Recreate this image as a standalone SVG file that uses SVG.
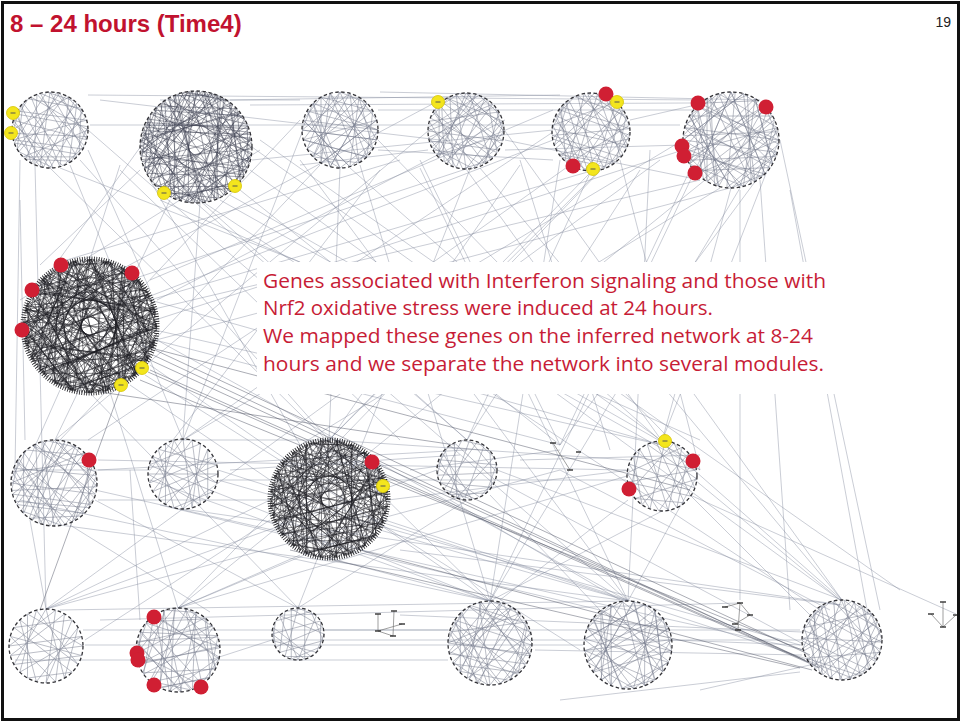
<svg xmlns="http://www.w3.org/2000/svg" xmlns:xlink="http://www.w3.org/1999/xlink" width="962" height="723" viewBox="0 0 962 723">
<style>
.e{fill:none;stroke:#80869a;stroke-width:.7;opacity:.6}
.ed{fill:none;stroke:#4e5263;stroke-width:.8;opacity:.6}
.lt{stroke:#6f7588;stroke-width:.55;opacity:.85}
.md{stroke:#3e4252;stroke-width:.6;opacity:.8}
.dk{stroke:#1c1c22;stroke-width:.7;opacity:.75}
.ring{fill:none;stroke:#333338;stroke-width:1.3;stroke-dasharray:3.5 2.5}
.ringd{fill:none;stroke:#1a1a1e;stroke-width:5;stroke-dasharray:.8 1.6}
.rd{fill:#d01f33}
.tick{stroke:#333;stroke-width:1.4}
.tree{stroke:#777;stroke-width:.7}
.title{font-family:"Liberation Sans",Arial,sans-serif;font-weight:bold;font-size:24px;fill:#c1122f}
.body{font-family:"Open Sans","Noto Sans","Liberation Sans",sans-serif;font-size:19.5px;fill:#c71c36}
</style>
<defs>
<path id="t1" fill="none" vector-effect="non-scaling-stroke" d="M100 0 L-70.7 70.7 L70.7 70.7 L-25.9 -96.6 L86.6 -50 L0 100 L-96.6 -25.9 L96.6 25.9 L25.9 -96.6 L-86.6 50 L-70.7 -70.7 L50 86.6 L70.7 -70.7 L-50 86.6 L-86.6 -50 L96.6 -25.9 L-96.6 25.9 L86.6 50 L0 -100 L-25.9 96.6 L-100 0 L50 -86.6 L25.9 96.6 L-50 -86.6 Z"/>
<path id="t2" fill="none" vector-effect="non-scaling-stroke" d="M100 0 L-96.6 -25.9 L25.9 96.6 L50 -86.6 L86.6 50 L-50 -86.6 L-50 86.6 L96.6 -25.9 L-96.6 25.9 L70.7 70.7 L0 -100 L-70.7 70.7 L86.6 -50 L-86.6 -50 L0 100 L96.6 25.9 L-100 0 L25.9 -96.6 L50 86.6 L-25.9 -96.6 L-86.6 50 L70.7 -70.7 L-25.9 96.6 L-70.7 -70.7 Z"/>
<path id="t3" fill="none" vector-effect="non-scaling-stroke" d="M100 0 L25.9 96.6 L-86.6 -50 L70.7 70.7 L-86.6 50 L25.9 -96.6 L-50 86.6 L70.7 -70.7 L-100 0 L96.6 25.9 L-50 -86.6 L96.6 -25.9 L0 100 L-25.9 -96.6 L86.6 50 L-96.6 25.9 L50 -86.6 L-25.9 96.6 L-96.6 -25.9 L86.6 -50 L50 86.6 L-70.7 -70.7 L-70.7 70.7 L0 -100 Z"/>
<path id="t4" fill="none" vector-effect="non-scaling-stroke" d="M100 0 L70.7 70.7 L-96.6 25.9 L-86.6 -50 L50 -86.6 L96.6 25.9 L-70.7 70.7 L-50 -86.6 L25.9 -96.6 L25.9 96.6 L-100 0 L86.6 -50 L86.6 50 L-25.9 96.6 L-25.9 -96.6 L96.6 -25.9 L-86.6 50 L-96.6 -25.9 L50 86.6 L-50 86.6 L0 -100 L70.7 -70.7 L0 100 L-70.7 -70.7 Z"/>
<g id="yd"><circle r="6.5" fill="#f3e51d" stroke="#d6c400" stroke-width=".8"/><line x1="-2.5" y1="0" x2="2.5" y2="0" stroke="#555" stroke-width="1"/></g>
</defs>
<rect x="0" y="0" width="962" height="723" fill="#ffffff"/>

<g id="connectors">
<path class="e" d="M88 95 L700 100 M90 125 L680 125 M250 105 L690 103 M378 110 L700 110 M505 150 L683 145 M630 120 L700 104 M252 160 L553 130 M88 150 L150 290 M140 170 L40 265 M300 120 L145 285 M466 169 L130 280 M591 171 L150 300 M700 180 L150 310 M683 150 L155 320 M730 188 L156 340 M553 140 L140 300 M440 100 L120 270 M196 203 L467 440 M230 195 L660 441 M250 170 L840 600 M170 200 L55 440 M200 203 L183 438 M150 180 L300 445 M240 190 L560 445 M20 160 L15 470 M35 165 L46 609 M70 165 L183 440 M80 160 L329 440 M60 168 L300 262 M340 168 L329 440 M320 165 L60 440 M466 169 L662 441 M480 168 L842 600 M591 171 L467 440 M600 170 L329 440 M570 165 L183 440 M620 160 L700 470 M731 188 L662 441 M760 180 L790 610 M780 140 L880 610 M700 160 L490 601 M650 150 L628 601 M157 340 L628 601 M150 365 L490 601 M130 385 L270 480 M155 330 L662 445 M145 375 L580 650 M110 392 L178 608 M60 390 L20 480 M90 393 L298 608 M95 490 L805 650 M98 470 L467 450 M218 480 L800 645 M210 490 L490 601 M385 520 L810 660 M380 530 L628 601 M388 500 L630 470 M270 520 L85 640 M300 555 L178 608 M497 480 L805 645 M490 495 L600 610 M695 480 L840 600 M690 495 L815 620 M630 460 L330 440 M626 480 L220 480 M83 630 L448 630 M85 645 L583 645 M220 640 L802 640 M60 610 L628 601 M325 630 L800 630 M535 650 L802 655 M672 640 L802 645 M15 660 L448 660 M100 620 L740 603 M400 615 L802 632 M98 460 L626 470 M55 440 L329 440 M690 495 L956 614 M790 190 L868 615 M20 200 L25 440 M180 92 L30 300 M260 150 L20 300 M120 165 L90 259 M400 160 L60 262 M505 120 L157 300 M553 110 L150 280 M220 200 L700 470 M260 140 L900 590 M300 160 L628 601 M360 165 L490 601 M420 160 L560 445 M520 165 L330 440 M640 170 L467 440 M690 170 L560 445 M740 190 L740 600 M30 520 L46 609 M70 525 L210 612 M130 470 L140 620 M160 505 L600 610 M400 550 L840 605 M450 500 L620 600 M560 470 L830 610 M628 500 L500 600 M230 470 L460 455 M410 470 L560 450 M520 460 L700 455 M20 470 L150 470 M98 500 L270 500 M210 660 L272 640 M560 700 L800 672 M700 690 L810 665"/>
<path class="e" d="M50 168 L490 601 M88 130 L628 601 M140 147 L467 440 M252 147 L662 441 M303 130 L183 440 M378 140 L700 470 M428 131 L55 440 M505 131 L842 600 M553 132 L88 440 M630 132 L329 440 M683 140 L183 440 M779 140 L662 441 M720 188 L300 445 M760 175 L560 445 M350 168 L842 600 M420 168 L628 601 M470 169 L298 608 M600 171 L178 608 M660 160 L46 609 M560 160 L490 601 M740 188 L490 601 M705 180 L178 608 M20 500 L490 601 M60 525 L628 601 M183 509 L842 605 M218 470 L628 601 M270 500 L46 609 M329 558 L490 601 M388 520 L178 608 M437 470 L46 609 M497 470 L842 600 M467 500 L298 608 M627 476 L178 608 M662 511 L490 601 M697 476 L628 601 M560 470 L46 609 M95 500 L298 608 M150 480 L490 601 M155 340 L560 445 M150 300 L662 445 M380 92 L760 100 M230 100 L560 95 M100 100 L440 140 M160 100 L300 100 M505 140 L700 180 M378 150 L553 160 M300 165 L428 150 M160 200 L700 440 M200 200 L820 610 M120 170 L400 440 M380 170 L150 470 M520 160 L610 450"/>
<path class="ed" d="M150 360 L805 660 M155 350 L810 655 M150 370 L815 665 M140 380 L802 650 M120 390 L40 610 M148 372 L820 668 M153 355 L808 662 M360 550 L812 670 M290 550 L800 668 M140 345 L690 490 M100 392 L455 445"/>
</g>

<rect x="257" y="262" width="578" height="132" fill="#ffffff"/>

<g id="module-1">
<use href="#t1" class="lt" transform="translate(50,130) scale(0.38)"/>
<use href="#t4" class="lt" transform="translate(50,130) rotate(25) scale(0.38)"/>
<circle class="ring" cx="50" cy="130" r="38"/>
<use href="#yd" x="13" y="113"/><use href="#yd" x="11" y="133"/>
</g>
<g id="module-2">
<use href="#t1" class="md" transform="translate(196,147) scale(0.56)"/>
<use href="#t4" class="md" transform="translate(196,147) rotate(17) scale(0.56)"/>
<use href="#t3" class="md" transform="translate(196,147) rotate(38) scale(0.56)"/>
<use href="#t2" class="md" transform="translate(196,147) rotate(71) scale(0.56)"/>
<use href="#t4" class="md" transform="translate(196,147) rotate(96) scale(0.56)"/>
<circle class="ring" cx="196" cy="147" r="56"/>
<use href="#yd" x="164" y="193"/><use href="#yd" x="235" y="186"/>
</g>
<g id="module-3">
<use href="#t2" class="lt" transform="translate(340,130) scale(0.38)"/>
<use href="#t4" class="lt" transform="translate(340,130) rotate(30) scale(0.38)"/>
<circle class="ring" cx="340" cy="130" r="38"/>
</g>
<g id="module-4">
<use href="#t3" class="lt" transform="translate(466,131) scale(0.38)"/>
<use href="#t4" class="lt" transform="translate(466,131) rotate(50) scale(0.38)"/>
<circle class="ring" cx="466" cy="131" r="38"/>
<use href="#yd" x="438" y="102"/>
</g>
<g id="module-5">
<use href="#t1" class="lt" transform="translate(591,132) rotate(10) scale(0.39)"/>
<use href="#t4" class="lt" transform="translate(591,132) rotate(35) scale(0.39)"/>
<circle class="ring" cx="591" cy="132" r="39"/>
<circle class="rd" cx="606" cy="94" r="7.5"/><use href="#yd" x="617" y="102"/>
<circle class="rd" cx="573" cy="166" r="7.5"/><use href="#yd" x="593" y="169"/>
</g>
<g id="module-6">
<use href="#t2" class="lt" transform="translate(731,140) scale(0.48)"/>
<use href="#t4" class="lt" transform="translate(731,140) rotate(45) scale(0.48)"/>
<use href="#t1" class="lt" transform="translate(731,140) rotate(80) scale(0.48)"/>
<circle class="ring" cx="731" cy="140" r="48"/>
<circle class="rd" cx="698" cy="103" r="7.5"/><circle class="rd" cx="766" cy="107" r="7.5"/>
<circle class="rd" cx="682" cy="146" r="7.5"/><circle class="rd" cx="684" cy="156" r="7.5"/>
<circle class="rd" cx="695" cy="173" r="7.5"/>
</g>
<g id="module-7">
<use href="#t1" class="dk" transform="translate(90,326) scale(0.67)"/>
<use href="#t4" class="dk" transform="translate(90,326) rotate(7) scale(0.67)"/>
<use href="#t2" class="dk" transform="translate(90,326) rotate(19) scale(0.67)"/>
<use href="#t3" class="dk" transform="translate(90,326) rotate(33) scale(0.67)"/>
<use href="#t4" class="dk" transform="translate(90,326) rotate(46) scale(0.67)"/>
<use href="#t1" class="dk" transform="translate(90,326) rotate(61) scale(0.67)"/>
<use href="#t4" class="dk" transform="translate(90,326) rotate(77) scale(0.67)"/>
<use href="#t2" class="dk" transform="translate(90,326) rotate(88) scale(0.67)"/>
<use href="#t3" class="dk" transform="translate(90,326) rotate(104) scale(0.67)"/>
<use href="#t4" class="dk" transform="translate(90,326) rotate(131) scale(0.67)"/>
<circle class="ringd" cx="90" cy="326" r="67"/>
<circle class="rd" cx="61" cy="265" r="7.5"/><circle class="rd" cx="32" cy="290" r="7.5"/>
<circle class="rd" cx="132" cy="273" r="7.5"/><circle class="rd" cx="22" cy="330" r="7.5"/>
<use href="#yd" x="142" y="368"/><use href="#yd" x="121" y="385"/>
</g>
<g id="module-8">
<use href="#t3" class="lt" transform="translate(54,483) scale(0.43)"/>
<use href="#t4" class="lt" transform="translate(54,483) rotate(20) scale(0.43)"/>
<circle class="ring" cx="54" cy="483" r="43"/>
<circle class="rd" cx="89" cy="460" r="7.5"/>
</g>
<g id="module-9">
<use href="#t2" class="lt" transform="translate(183,474) rotate(15) scale(0.35)"/>
<circle class="ring" cx="183" cy="474" r="35"/>
</g>
<g id="module-10">
<use href="#t1" class="dk" transform="translate(329,499) scale(0.59)"/>
<use href="#t4" class="dk" transform="translate(329,499) rotate(9) scale(0.59)"/>
<use href="#t2" class="dk" transform="translate(329,499) rotate(23) scale(0.59)"/>
<use href="#t3" class="dk" transform="translate(329,499) rotate(37) scale(0.59)"/>
<use href="#t4" class="dk" transform="translate(329,499) rotate(52) scale(0.59)"/>
<use href="#t1" class="dk" transform="translate(329,499) rotate(74) scale(0.59)"/>
<use href="#t4" class="dk" transform="translate(329,499) rotate(101) scale(0.59)"/>
<circle class="ringd" cx="329" cy="499" r="59"/>
<circle class="rd" cx="372" cy="462" r="7.5"/><use href="#yd" x="383" y="486"/>
</g>
<g id="module-11">
<use href="#t4" class="lt" transform="translate(467,470) rotate(20) scale(0.30)"/>
<circle class="ring" cx="467" cy="470" r="30"/>
</g>
<g id="module-12">
<line class="tree" x1="553" y1="443" x2="570" y2="470"/>
<line class="tick" x1="550" y1="443" x2="556" y2="443"/>
<line class="tick" x1="567" y1="470" x2="573" y2="470"/>
<line class="tick" x1="576" y1="452" x2="581" y2="452"/>
</g>
<g id="module-13">
<use href="#t1" class="lt" transform="translate(662,476) rotate(5) scale(0.35)"/>
<circle class="ring" cx="662" cy="476" r="35"/>
<use href="#yd" x="665" y="441"/>
<circle class="rd" cx="693" cy="461" r="7.5"/><circle class="rd" cx="629" cy="489" r="7.5"/>
</g>
<g id="module-14">
<use href="#t2" class="lt" transform="translate(46,646) rotate(30) scale(0.37)"/>
<circle class="ring" cx="46" cy="646" r="37"/>
</g>
<g id="module-15">
<use href="#t4" class="lt" transform="translate(178,650) rotate(12) scale(0.42)"/>
<use href="#t3" class="lt" transform="translate(178,650) rotate(40) scale(0.42)"/>
<circle class="ring" cx="178" cy="650" r="42"/>
<circle class="rd" cx="154" cy="617" r="7.5"/><circle class="rd" cx="137" cy="653" r="7.5"/>
<circle class="rd" cx="138" cy="660" r="7.5"/><circle class="rd" cx="154" cy="685" r="7.5"/>
<circle class="rd" cx="201" cy="687" r="7.5"/>
</g>
<g id="module-16">
<use href="#t4" class="lt" transform="translate(298,634) scale(0.26)"/>
<circle class="ring" cx="298" cy="634" r="26"/>
</g>
<g id="module-17">
<path class="tree" fill="none" d="M378 614 L378 631 L393 636 M378 631 L402 624 M394 611 L393 636"/>
<line class="tick" x1="375" y1="614" x2="381" y2="614"/><line class="tick" x1="391" y1="611" x2="397" y2="611"/>
<line class="tick" x1="375" y1="631" x2="381" y2="631"/><line class="tick" x1="390" y1="636" x2="396" y2="636"/>
<line class="tick" x1="399" y1="624" x2="405" y2="624"/>
</g>
<g id="module-18">
<use href="#t3" class="lt" transform="translate(490,643) scale(0.42)"/>
<use href="#t4" class="lt" transform="translate(490,643) rotate(33) scale(0.42)"/>
<circle class="ring" cx="490" cy="643" r="42"/>
</g>
<g id="module-19">
<use href="#t2" class="lt" transform="translate(628,645) rotate(8) scale(0.44)"/>
<use href="#t4" class="lt" transform="translate(628,645) rotate(52) scale(0.44)"/>
<circle class="ring" cx="628" cy="645" r="44"/>
</g>
<g id="module-20">
<path class="tree" fill="none" d="M740 603 L738 630 M725 607 L740 603 M740 603 L750 615 M735 624 L750 615"/>
<line class="tick" x1="737" y1="603" x2="743" y2="603"/><line class="tick" x1="722" y1="607" x2="728" y2="607"/>
<line class="tick" x1="735" y1="630" x2="741" y2="630"/><line class="tick" x1="747" y1="615" x2="753" y2="615"/>
<line class="tick" x1="732" y1="624" x2="738" y2="624"/>
</g>
<g id="module-21">
<use href="#t1" class="lt" transform="translate(842,640) rotate(18) scale(0.40)"/>
<use href="#t4" class="lt" transform="translate(842,640) rotate(44) scale(0.40)"/>
<circle class="ring" cx="842" cy="640" r="40"/>
</g>
<g id="module-22">
<path class="tree" fill="none" d="M943 602 L943 627 M931 614 L943 627 M956 615 L943 627"/>
<line class="tick" x1="940" y1="602" x2="946" y2="602"/><line class="tick" x1="928" y1="614" x2="934" y2="614"/>
<line class="tick" x1="953" y1="615" x2="959" y2="615"/><line class="tick" x1="940" y1="627" x2="946" y2="627"/>
</g>

<g id="caption">
<text class="body" x="263" y="288" textLength="563" lengthAdjust="spacingAndGlyphs">Genes associated with Interferon signaling and those with</text>
<text class="body" x="263" y="315" textLength="450" lengthAdjust="spacingAndGlyphs">Nrf2 oxidative stress were induced at 24 hours.</text>
<text class="body" x="263" y="343" textLength="550" lengthAdjust="spacingAndGlyphs">We mapped these genes on the inferred network at 8-24</text>
<text class="body" x="263" y="371" textLength="561" lengthAdjust="spacingAndGlyphs">hours and we separate the network into several modules.</text>
</g>

<text class="title" x="10" y="32">8 – 24 hours (Time4)</text>
<text x="951" y="27" text-anchor="end" font-family="Liberation Sans, Arial, sans-serif" font-size="14" fill="#222">19</text>
<rect x="2.5" y="2.5" width="956" height="717" fill="none" stroke="#111" stroke-width="3"/>
</svg>
